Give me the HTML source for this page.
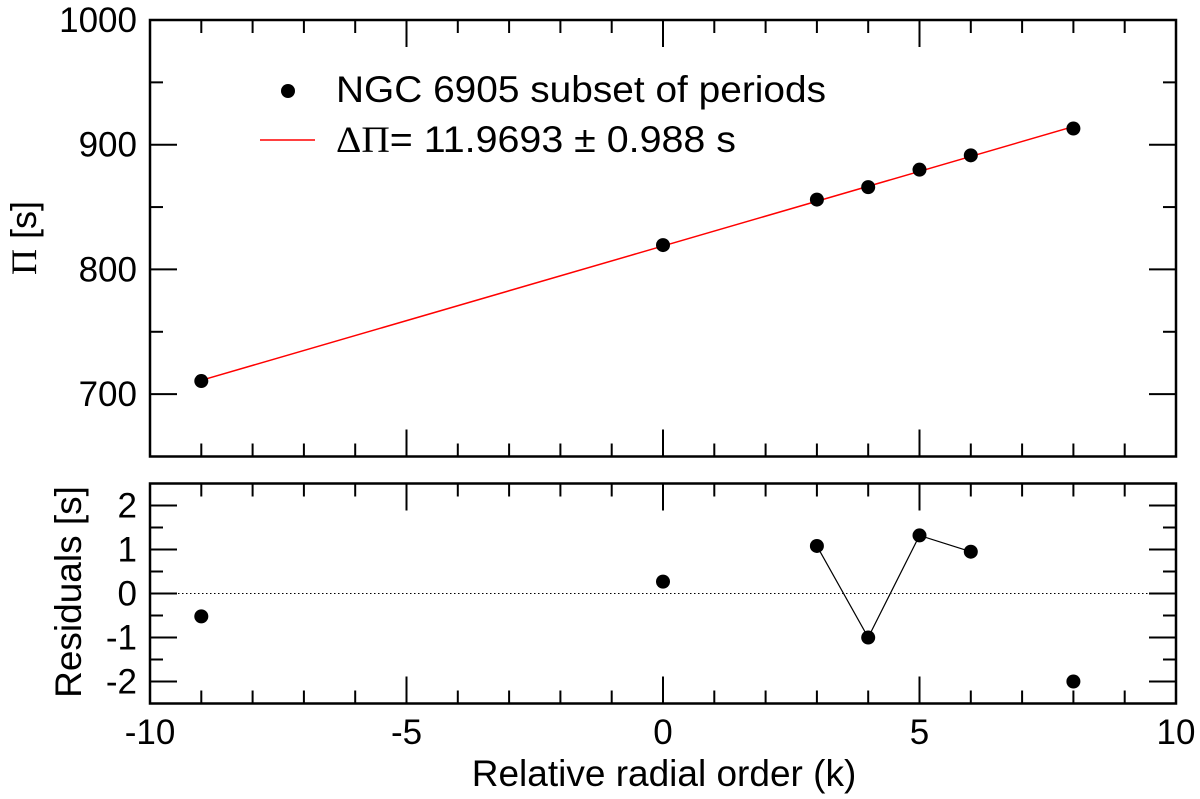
<!DOCTYPE html>
<html><head><meta charset="utf-8"><style>
html,body{margin:0;padding:0;background:#fff;}
svg{display:block;font-family:"Liberation Sans",Arial,sans-serif;}
</style></head><body>
<svg id="chart" width="1200" height="799" viewBox="0 0 1200 799" xmlns="http://www.w3.org/2000/svg"></svg>
<script>
const kValues = [-9, 0, 3, 4, 5, 6, 8];
const periods = [710.5, 819.5, 856, 866, 880, 891.5, 913];
const residuals = [-0.52, 0.27, 1.08, -1.0, 1.32, 0.95, -2.0];
const connectedResidualIdx = [2, 3, 4, 5];
const fitSlope = [11.9693];
const fitIntercept = [818.8];
const fitRange = [-9, 8];
const xTicks = [-10, -5, 0, 5, 10];
const topYTicks = [700, 800, 900, 1000];
const botYTicks = [-2, -1, 0, 1, 2];

const NS = "http://www.w3.org/2000/svg";
const svg = document.getElementById("chart");
const L = 150, R = 1176;
const T1 = 20, B1 = 456.5, T2 = 483.5, B2 = 703.5;
const xS = v => L + (v + 10) / 20 * (R - L);
const y1 = v => B1 - (v - 650) / 350 * (B1 - T1);
const y2 = v => B2 - (v + 2.5) / 5 * (B2 - T2);

function el(tag, attrs, parent) {
  const e = document.createElementNS(NS, tag);
  for (const k in attrs) e.setAttribute(k, attrs[k]);
  (parent || svg).appendChild(e);
  return e;
}
function line(x1, yA, x2, yB, stroke, w, name, extra) {
  const e = el("line", Object.assign({x1: x1, y1: yA, x2: x2, y2: yB, stroke: stroke, "stroke-width": w}, extra || {}));
  
  
  return e;
}
function text(x, y, s, size, anchor, name, extra) {
  const e = el("text", Object.assign({x: x, y: y, "font-size": size, "text-anchor": anchor, fill: "#000"}, extra || {}));
  e.textContent = s;
  
  
  return e;
}

function panelTicks(top, bot, yFn, ymin, ymax, yMinor, yMajorList, panel) {
  for (let v = -10; v <= 10; v++) {
    const major = v % 5 === 0;
    const len = major ? 27 : 13;
    const x = xS(v);
    line(x, bot, x, bot - len, "#000", 2, panel + "-x-tick-bottom");
    line(x, top, x, top + len, "#000", 2, panel + "-x-tick-top");
  }
  for (let v = ymin; v <= ymax + 1e-9; v += yMinor) {
    const major = yMajorList.some(m => Math.abs(m - v) < 1e-9);
    const len = major ? 27 : 13;
    const y = yFn(v);
    line(L, y, L + len, y, "#000", 2, panel + "-y-tick-left");
    line(R, y, R - len, y, "#000", 2, panel + "-y-tick-right");
  }
  const f = el("rect", {x: L, y: top, width: R - L, height: bot - top, fill: "none", stroke: "#000", "stroke-width": 2.5});
  
  
}

const TS = 35;
panelTicks(T1, B1, y1, 650, 1000, 50, topYTicks, "top-panel");
topYTicks.forEach(v => text(137, y1(v) + 12, String(v), TS, "end", "top-y-tick-label"));

line(xS(fitRange[0]), y1(fitIntercept[0] + fitSlope[0] * fitRange[0]), xS(fitRange[1]), y1(fitIntercept[0] + fitSlope[0] * fitRange[1]), "#ff0000", 1.5, "fit-line");

kValues.forEach((k, i) => {
  const c = el("circle", {cx: xS(k), cy: y1(periods[i]), r: 7, fill: "#000"});
  
  
});

const lg = el("circle", {cx: 288, cy: 91, r: 7, fill: "#000"});


text(336, 102, "NGC 6905 subset of periods", 37, "start", "legend-label-periods", {textLength: 490, lengthAdjust: "spacingAndGlyphs"});
line(260, 140, 315, 140, "#ff0000", 1.5, "legend-marker-fit");
const lt = text(336, 152, "", 37, "start", "legend-label-fit", {textLength: 400, lengthAdjust: "spacingAndGlyphs"});
const t1 = el("tspan", {"font-family": "Liberation Serif, serif"}, lt); t1.textContent = "\u0394\u03A0";
const t2 = el("tspan", {}, lt); t2.textContent = "= 11.9693 \u00B1 0.988 s";

panelTicks(T2, B2, y2, -2.5, 2.5, 0.5, botYTicks, "bottom-panel");
botYTicks.forEach(v => text(137, y2(v) + 12, v < 0 ? "-" + Math.abs(v) : String(v), TS, "end", "bottom-y-tick-label"));
line(L, y2(0), R, y2(0), "#000", 1, "zero-line", {"stroke-dasharray": "1.5,2.5"});

const pts = connectedResidualIdx.map(i => xS(kValues[i]) + "," + y2(residuals[i])).join(" ");
const pl = el("polyline", {points: pts, fill: "none", stroke: "#000", "stroke-width": 1.2});



kValues.forEach((k, i) => {
  const c = el("circle", {cx: xS(k), cy: y2(residuals[i]), r: 7, fill: "#000"});
  
  
});

xTicks.forEach(v => text(xS(v), 744, v < 0 ? "-" + Math.abs(v) : String(v), TS, "middle", "x-tick-label"));

text(664, 786, "Relative radial order (k)", 37, "middle", "x-axis-title");
const yt = text(0, 0, "", 36, "middle", "top-y-axis-title", {transform: "translate(36,238) rotate(-90)"});
const p1 = el("tspan", {"font-family": "Liberation Serif, serif"}, yt); p1.textContent = "\u03A0";
const p2 = el("tspan", {}, yt); p2.textContent = " [s]";
text(0, 0, "Residuals [s]", 37, "middle", "bottom-y-axis-title", {transform: "translate(81,592) rotate(-90)"});
</script>
</body></html>
